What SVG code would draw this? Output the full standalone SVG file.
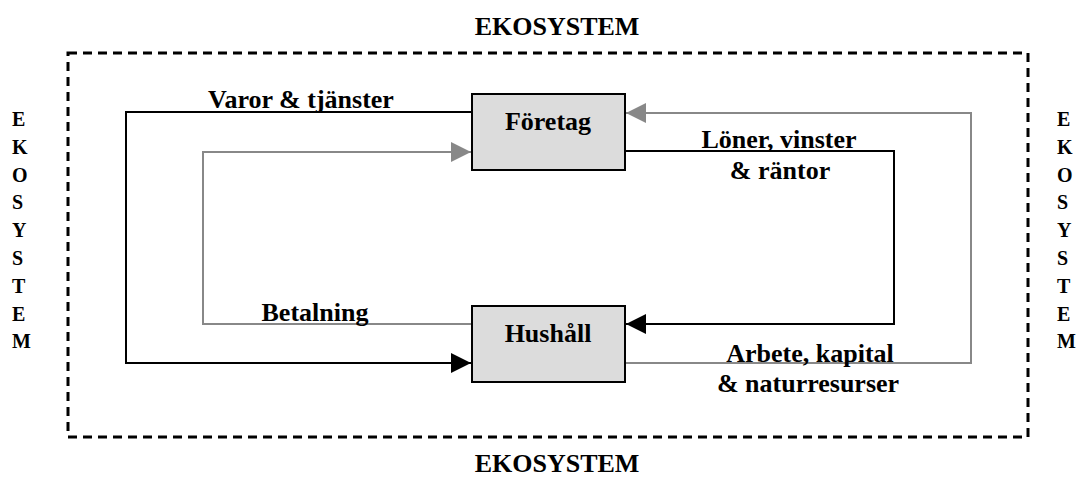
<svg xmlns="http://www.w3.org/2000/svg" width="1090" height="477" viewBox="0 0 1090 477">
<defs>
<style>
text{font-family:"Liberation Serif","Times New Roman",serif;font-weight:bold;fill:#000}
.lbl{font-size:26px}
.mid{text-anchor:middle}
.vert{font-size:20px}
.box{fill:#dcdcdc;stroke:#000;stroke-width:2}
.blk{fill:none;stroke:#000;stroke-width:2}
.gry{fill:none;stroke:#888;stroke-width:2}
</style>
<marker id="ab" viewBox="0 0 20 20" refX="20" refY="10" markerWidth="20" markerHeight="20" markerUnits="userSpaceOnUse" orient="auto"><path d="M0,0 L20,10 L0,20 Z" fill="#000"/></marker>
<marker id="ag" viewBox="0 0 20 20" refX="20" refY="10" markerWidth="20" markerHeight="20" markerUnits="userSpaceOnUse" orient="auto"><path d="M0,0 L20,10 L0,20 Z" fill="#888"/></marker>
</defs>
<rect x="68" y="53" width="960" height="384" fill="none" stroke="#000" stroke-width="3" stroke-dasharray="9 6"/>
<text class="lbl mid" x="557" y="35">EKOSYSTEM</text>
<text class="lbl mid" x="557" y="472">EKOSYSTEM</text>
<g class="vert">
<text class="vert" x="12" y="126">E</text><text class="vert" x="12" y="154">K</text><text class="vert" x="12" y="182">O</text><text class="vert" x="12" y="209">S</text><text class="vert" x="12" y="237">Y</text><text class="vert" x="12" y="265">S</text><text class="vert" x="12" y="293">T</text><text class="vert" x="12" y="321">E</text><text class="vert" x="12" y="348">M</text>
<text class="vert" x="1057" y="126">E</text><text class="vert" x="1057" y="154">K</text><text class="vert" x="1057" y="182">O</text><text class="vert" x="1057" y="209">S</text><text class="vert" x="1057" y="237">Y</text><text class="vert" x="1057" y="265">S</text><text class="vert" x="1057" y="293">T</text><text class="vert" x="1057" y="321">E</text><text class="vert" x="1057" y="348">M</text>
</g>
<g id="connectors">
<path class="blk" d="M472,112 H126 V363 H471" marker-end="url(#ab)"/>
<path class="gry" d="M472,324 H203 V152 H471" marker-end="url(#ag)"/>
<path class="blk" d="M625,151 H894 V324 H626" marker-end="url(#ab)"/>
<path class="gry" d="M625,363 H971 V113 H626" marker-end="url(#ag)"/>
<text class="lbl mid" x="301" y="108">Varor &amp; tjänster</text>
<text class="lbl mid" x="315" y="321">Betalning</text>
<text class="lbl mid" x="779" y="148">Löner, vinster</text>
<text class="lbl mid" x="780" y="179">&amp; räntor</text>
<text class="lbl mid" x="810" y="362">Arbete, kapital</text>
<text class="lbl mid" x="808" y="392">&amp; naturresurser</text>
</g>
<g id="foretag">
<rect class="box" x="472" y="94" width="153" height="76"/>
<text class="lbl mid" x="548" y="130">Företag</text>
</g>
<g id="hushall">
<rect class="box" x="472" y="306" width="153" height="76"/>
<text class="lbl mid" x="548" y="342">Hushåll</text>
</g>
</svg>
